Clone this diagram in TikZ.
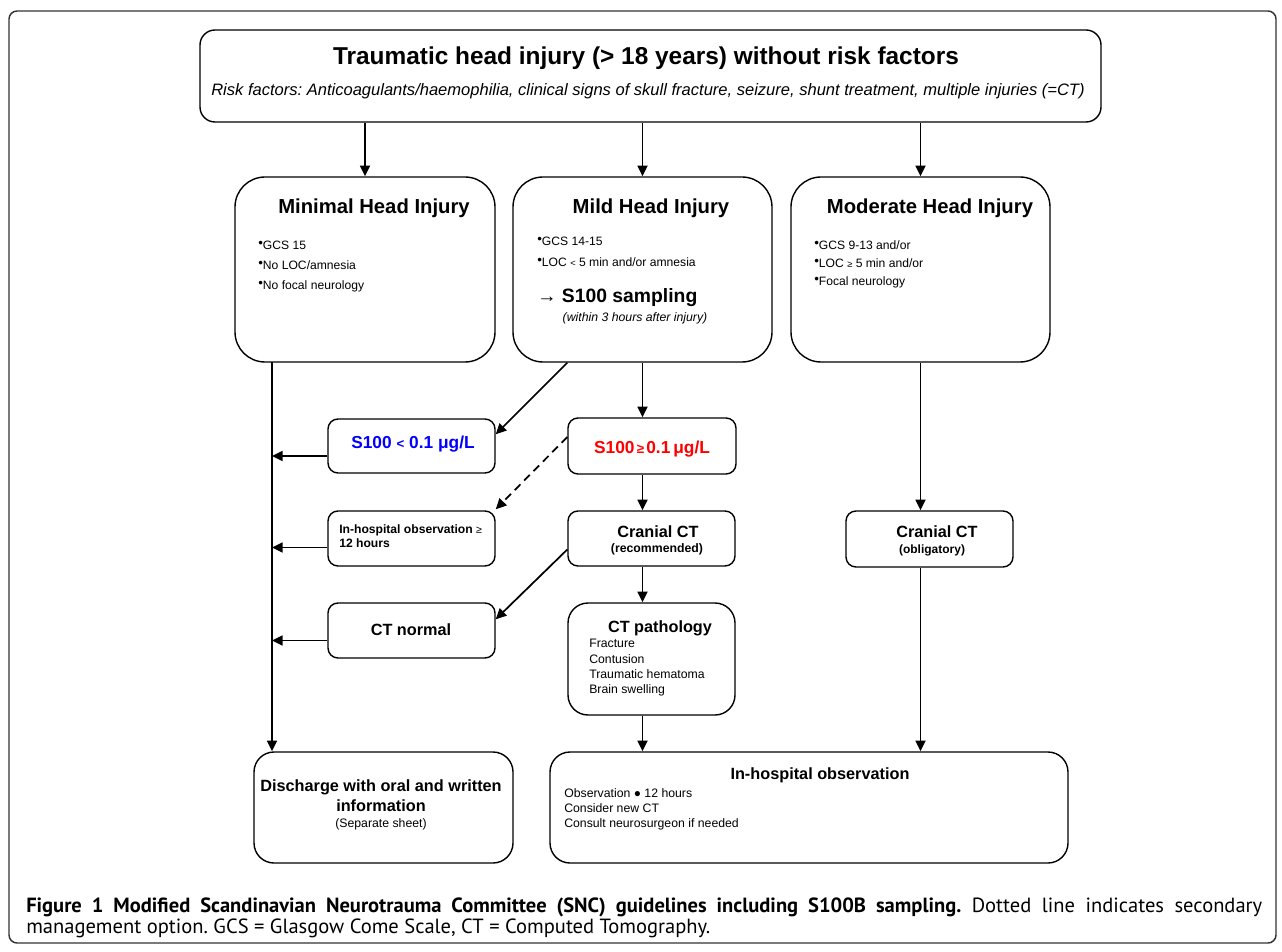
\documentclass[tikz,border=0pt]{standalone}
\usepackage{fontspec}
\setmainfont{Liberation Sans}
\newfontfamily\capfont{PT Sans}
\usetikzlibrary{arrows.meta,calc}
\definecolor{sblue}{RGB}{0,0,255}
\definecolor{sred}{RGB}{255,0,0}
\newcommand\fz[1]{\fontsize{#1}{#1}\selectfont}
\newcommand\bul{\raisebox{0.18em}{\fz{10}•}}
\begin{document}
\frenchspacing
\begin{tikzpicture}[x=0.75pt,y=-0.75pt,
  bx/.style={draw, line width=1.05pt, inner sep=0pt, rounded corners=#1},
  bx/.default=7.5pt,
  txt/.style={inner sep=0pt, text height=0.72em, text depth=0.2em},
  bigt/.style={txt, font=\fz{18.3}\bfseries},
  risk/.style={txt, font=\fz{12.4}\itshape},
  ttl/.style={txt, font=\fz{15.2}\bfseries},
  hd/.style={txt, font=\fz{12.2}\bfseries},
  sm/.style={txt, font=\fz{9.1}},
  smb/.style={txt, font=\fz{9.1}\bfseries},
  val/.style={txt, font=\fz{13}\bfseries},
  arr/.style={line width=1.3pt, -{Triangle[length=8pt,width=7.5pt]}},
  capt/.style={inner sep=0pt, anchor=west, text height=0.72em, text depth=0.2em, font=\capfont\fz{15.4}}
]
\useasboundingbox (0,0) rectangle (1282,952);
% outer frame
\node[bx=6pt, draw=black!80, line width=1.1pt, minimum width=950.25pt, minimum height=699pt] (frame) at (642.5,477) {};

% boxes
\node[bx=11.25pt, minimum width=675.75pt, minimum height=69pt] (top) at (650.5,76) {};
\node[bx=22.5pt, minimum width=195pt, minimum height=138.75pt] (minimal) at (365,269.5) {};
\node[bx=22.5pt, minimum width=194.25pt, minimum height=138.75pt] (mild) at (642.5,269.5) {};
\node[bx=22.5pt, minimum width=194.25pt, minimum height=138.75pt] (moderate) at (920.5,269.5) {};
\node[bx, minimum width=125.25pt, minimum height=40.5pt] (s100lo) at (411.5,446) {};
\node[bx, minimum width=126pt, minimum height=42pt] (s100hi) at (652,446) {};
\node[bx, minimum width=125.25pt, minimum height=41.25pt] (obs12) at (411.5,538.5) {};
\node[bx, minimum width=125.25pt, minimum height=41.25pt] (crct) at (651.5,538.5) {};
\node[bx, minimum width=125.25pt, minimum height=41.25pt] (ctnorm) at (411.5,630.5) {};
\node[bx=15pt, minimum width=125.25pt, minimum height=84pt] (ctpath) at (651.5,659) {};
\node[bx, minimum width=125.25pt, minimum height=42pt] (crob) at (929.5,539) {};
\node[bx=15pt, minimum width=194.25pt, minimum height=83.25pt] (discharge) at (383.5,807.5) {};
\node[bx=15pt, minimum width=388.5pt, minimum height=83.25pt] (inhosp) at (809,807.5) {};

% texts: top
\node[bigt] (ttop) at (646,61) {Traumatic head injury (> 18 years) without risk factors};
\node[risk] (trisk) at (648,92) {Risk factors: Anticoagulants/haemophilia, clinical signs of skull fracture, seizure, shunt treatment, multiple injuries (=CT)};

% minimal
\node[ttl] (tmin) at (374,210) {Minimal Head Injury};
\node[sm, anchor=west] (m1) at (258,246) {\bul GCS 15};
\node[sm, anchor=west] (m2) at (258,266) {\bul No LOC/amnesia};
\node[sm, anchor=west] (m3) at (258,286) {\bul No focal neurology};

% mild
\node[ttl] (tmild) at (651,210) {Mild Head Injury};
\node[sm, anchor=west] (d1) at (537,242) {\bul GCS 14-15};
\node[sm, anchor=west] (d2) at (537,263) {\bul LOC {\fz{7}<} 5 min and/or amnesia};
\node[txt, anchor=west, font=\fz{14.5}] (d3) at (537,299) {→ \textbf{S100 sampling}};
\node[txt, font=\fz{9.2}\itshape] (d4) at (635,318) {(within 3 hours after injury)};

% moderate
\node[ttl] (tmod) at (930,210) {Moderate Head Injury};
\node[sm, anchor=west] (o1) at (814,246) {\bul GCS 9-13 and/or};
\node[sm, anchor=west] (o2) at (814,264) {\bul LOC {\fz{7}≥} 5 min and/or};
\node[sm, anchor=west] (o3) at (814,282) {\bul Focal neurology};

% S100 values
\node[val, text=sblue] (tlo) at (413,445) {S100 {\fz{10}<} 0.1 μg/L};
\node[val, text=sred] (thi) at (652,450) {S100{\fz{10}\,≥\,}0.1\,μg/L};

% observation >= 12 h
\node[smb, anchor=west] (ob1) at (339,530) {In-hospital observation {\mdseries\fz{8}≥}};
\node[smb, anchor=west] (ob2) at (339,544) {12 hours};

% cranial ct recommended
\node[hd] (cr1) at (658,534) {Cranial CT};
\node[txt, font=\fz{9.2}\bfseries] (cr2) at (657,549) {(recommended)};

% ct normal
\node[hd] (cn) at (411,632) {CT normal};

% ct pathology
\node[hd] (cp) at (660,629) {CT pathology};
\node[txt, anchor=west, font=\fz{9.2}] (cp1) at (589,644) {Fracture};
\node[txt, anchor=west, font=\fz{9.2}] (cp2) at (589,660) {Contusion};
\node[txt, anchor=west, font=\fz{9.2}] (cp3) at (589,675) {Traumatic hematoma};
\node[txt, anchor=west, font=\fz{9.2}] (cp4) at (589,690) {Brain swelling};

% cranial ct obligatory
\node[hd] (co1) at (937,534) {Cranial CT};
\node[txt, font=\fz{9}\bfseries] (co2) at (932,550) {(obligatory)};

% discharge
\node[hd] (dc1) at (381,788) {Discharge with oral and written};
\node[hd] (dc2) at (381,808) {information};
\node[txt, font=\fz{9.2}] (dc3) at (381,824) {(Separate sheet)};

% in-hospital observation
\node[hd] (ih) at (820,776) {In-hospital observation};
\node[txt, anchor=west, font=\fz{9.2}] (ih1) at (564,794) {Observation {\fz{9}●} 12 hours};
\node[txt, anchor=west, font=\fz{9.2}] (ih2) at (564,809) {Consider new CT};
\node[txt, anchor=west, font=\fz{9.2}] (ih3) at (564,824) {Consult neurosurgeon if needed};

% caption
\node[capt] (cap1) at (26,909) {\makebox[927pt][s]{\textbf{Figure 1 Modified Scandinavian Neurotrauma Committee (SNC) guidelines including S100B sampling.} Dotted line indicates secondary}};
\node[capt] (cap2) at (26,930) {management option. GCS = Glasgow Come Scale, CT = Computed Tomography.};

% connectors
\draw[arr] (minimal.north |- top.south) -- (minimal.north);
\draw[arr] (mild.north |- top.south) -- (mild.north);
\draw[arr] (moderate.north |- top.south) -- (moderate.north);

\coordinate (vl) at (272,362);
\draw[arr] (vl) -- (vl |- discharge.north);
\coordinate (h1) at ($(s100lo.west)+(0,10)$);
\coordinate (h2) at ($(obs12.west)+(0,9)$);
\coordinate (h3) at ($(ctnorm.west)+(0,10)$);
\draw[arr] (h1) -- (h1 -| vl);
\draw[arr] (h2) -- (h2 -| vl);
\draw[arr] (h3) -- (h3 -| vl);

\draw[arr] (mild.south) -- (mild.south |- s100hi.north);
\draw[arr] (s100hi.south -| mild.south) -- (crct.north -| mild.south);
\draw[arr] (crct.south -| mild.south) -- (ctpath.north -| mild.south);
\draw[arr] (ctpath.south -| mild.south) -- (inhosp.north -| mild.south);

\draw[arr] (moderate.south) -- (moderate.south |- crob.north);
\draw[arr] (crob.south -| moderate.south) -- (inhosp.north -| moderate.south);

\draw[arr] ($(mild.south west)+(55,0)$) -- ($(s100lo.north east)+(0,16)$);
\draw[arr, dash pattern=on 6pt off 4pt] ($(s100hi.west)+(0,-9)$) -- ($(obs12.north east)+(0,-1)$);
\draw[arr] ($(crct.west)+(0,11)$) -- ($(ctnorm.north east)+(0,17)$);
\end{tikzpicture}
\end{document}
